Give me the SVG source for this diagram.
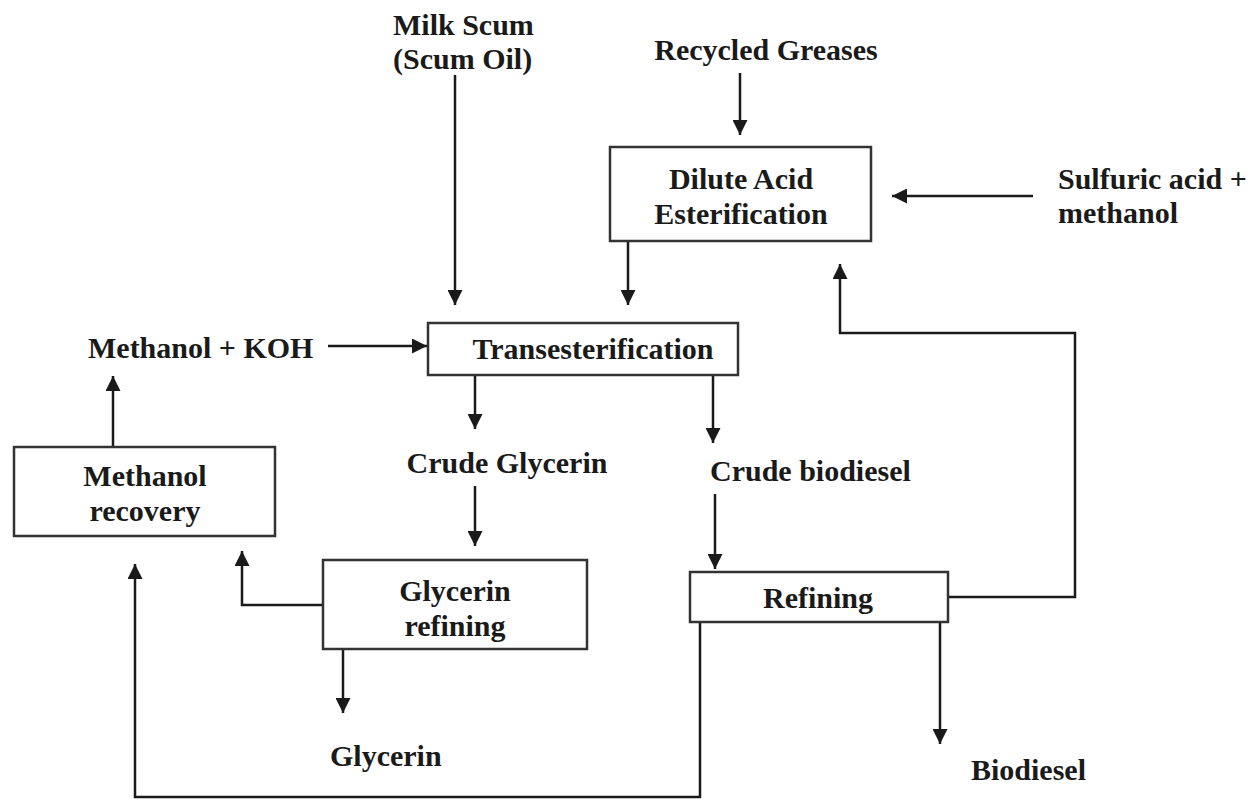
<svg xmlns="http://www.w3.org/2000/svg" width="1254" height="800" viewBox="0 0 1254 800">
<style>
text{font-family:"Liberation Serif","Times New Roman",serif;font-weight:bold;font-size:30px;fill:#1a1a1a}
.box{fill:#fff;stroke:#333;stroke-width:2.5}
.ln{fill:none;stroke:#1a1a1a;stroke-width:2.5}
</style>
<defs>
<marker id="ah" viewBox="0 0 10 10" refX="10" refY="5" markerWidth="6" markerHeight="6" orient="auto" markerUnits="strokeWidth">
<path d="M0,0 L10,5 L0,10 z" fill="#1a1a1a"/>
</marker>
</defs>
<rect width="1254" height="800" fill="#fff"/>
<g id="connectors">
<path class="ln" d="M455,75 V305" marker-end="url(#ah)"/>
<path class="ln" d="M740,73 V135" marker-end="url(#ah)"/>
<path class="ln" d="M1033,196 H892" marker-end="url(#ah)"/>
<path class="ln" d="M628,241 V305" marker-end="url(#ah)"/>
<path class="ln" d="M328,346 H427" marker-end="url(#ah)"/>
<path class="ln" d="M948,597 H1075 V333 H840 V264" marker-end="url(#ah)"/>
<path class="ln" d="M475,375 V429" marker-end="url(#ah)"/>
<path class="ln" d="M713,375 V443" marker-end="url(#ah)"/>
<path class="ln" d="M475,486 V546" marker-end="url(#ah)"/>
<path class="ln" d="M715,494 V569" marker-end="url(#ah)"/>
<path class="ln" d="M323,605 H242 V551" marker-end="url(#ah)"/>
<path class="ln" d="M343,649 V713" marker-end="url(#ah)"/>
<path class="ln" d="M940,622 V744" marker-end="url(#ah)"/>
<path class="ln" d="M700,622 V797 H135 V564" marker-end="url(#ah)"/>
<path class="ln" d="M113,447 V376" marker-end="url(#ah)"/>
</g>
<g id="milk-scum"><text x="393" y="35">Milk Scum</text><text x="393" y="69">(Scum Oil)</text></g>
<g id="recycled-greases"><text x="766" y="60" text-anchor="middle">Recycled Greases</text></g>
<g id="dilute-acid"><rect class="box" x="610" y="147" width="261" height="94"/><text x="741" y="189" text-anchor="middle">Dilute Acid</text><text x="741" y="224" text-anchor="middle">Esterification</text></g>
<g id="sulfuric"><text x="1058" y="189">Sulfuric acid +</text><text x="1058" y="223">methanol</text></g>
<g id="methanol-koh"><text x="88" y="358">Methanol + KOH</text></g>
<g id="transesterification"><rect class="box" x="428" y="323" width="310" height="52"/><text x="593" y="359" text-anchor="middle">Transesterification</text></g>
<g id="crude-glycerin"><text x="507" y="473" text-anchor="middle">Crude Glycerin</text></g>
<g id="crude-biodiesel"><text x="710" y="481">Crude biodiesel</text></g>
<g id="methanol-recovery"><rect class="box" x="14" y="447" width="261" height="89"/><text x="145" y="486" text-anchor="middle">Methanol</text><text x="145" y="521" text-anchor="middle">recovery</text></g>
<g id="glycerin-refining"><rect class="box" x="323" y="560" width="264" height="89"/><text x="455" y="601" text-anchor="middle">Glycerin</text><text x="455" y="636" text-anchor="middle">refining</text></g>
<g id="refining"><rect class="box" x="690" y="572" width="258" height="50"/><text x="818" y="608" text-anchor="middle">Refining</text></g>
<g id="glycerin"><text x="330" y="766">Glycerin</text></g>
<g id="biodiesel"><text x="971" y="780">Biodiesel</text></g>
</svg>
